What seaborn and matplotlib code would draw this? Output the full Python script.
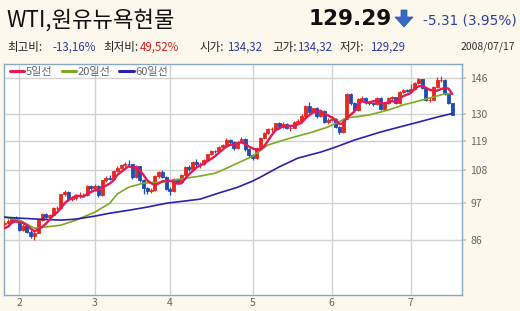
import numpy as np
import pandas as pd
import matplotlib
matplotlib.use('Agg')
import matplotlib.pyplot as plt
import seaborn as sns
from matplotlib.patches import Polygon
from matplotlib.ticker import FixedLocator, NullLocator, FixedFormatter

# ---------------- data ----------------
months = ['2', '3', '4', '5', '6', '7']
month_start_idx = [4, 24, 44, 66, 87, 108]

opens = [90.71, 90.99, 91.64, 92.33, 91.75, 88.96, 90.02, 88.41, 87.14, 88.11,
         91.77, 93.59, 92.78, 93.27, 95.46, 95.50, 100.01, 100.74, 98.23, 98.81,
         99.23, 99.64, 99.64, 102.59, 101.84, 102.45, 99.52, 104.52, 105.47, 105.15,
         107.90, 108.75, 109.92, 110.33, 110.21, 105.68, 109.42, 104.48, 101.84, 100.86,
         101.22, 105.90, 107.58, 105.62, 101.58, 100.98, 104.83, 103.92, 106.23, 109.09,
         108.50, 110.87, 110.11, 110.14, 111.76, 113.79, 114.93, 114.86, 116.69, 117.48,
         119.37, 118.30, 116.06, 118.52, 119.75, 115.63, 113.46, 112.52, 116.32, 119.97,
         121.84, 123.53, 123.69, 125.96, 124.23, 125.80, 124.12, 124.12, 126.29, 127.05,
         129.07, 133.17, 130.81, 132.19, 128.85, 131.03, 126.62, 127.35, 127.76, 124.31,
         122.30, 127.79, 138.54, 134.35, 131.31, 136.38, 136.74, 134.86, 134.61, 134.01,
         136.68, 131.93, 134.62, 136.74, 137.00, 134.55, 139.64, 140.21, 140.00, 140.97,
         143.57, 145.29, 141.37, 136.04, 136.05, 141.65, 145.08, 145.18, 138.74, 134.32]
highs = [91.6, 92.1, 92.8, 92.9, 92.0, 90.6, 90.3, 88.8, 88.6, 92.2,
         94.0, 94.1, 93.8, 95.9, 96.0, 100.1, 101.3, 101.0, 99.4, 99.9,
         100.5, 100.3, 103.1, 103.0, 103.2, 102.9, 104.7, 105.9, 106.5, 108.2,
         109.7, 110.2, 111.0, 111.8, 110.4, 109.8, 109.7, 104.9, 102.3, 101.9,
         106.2, 107.9, 108.0, 106.0, 102.2, 105.2, 105.3, 106.6, 109.4, 109.9,
         111.3, 112.2, 111.0, 112.0, 114.0, 115.5, 115.5, 117.0, 117.8, 119.9,
         119.8, 118.7, 118.9, 120.4, 120.0, 116.0, 114.0, 116.6, 120.3, 122.3,
         124.0, 124.5, 126.2, 126.4, 126.4, 126.2, 125.0, 126.8, 127.8, 129.6,
         133.8, 135.1, 132.5, 132.6, 131.4, 131.3, 128.0, 129.0, 128.2, 125.0,
         128.0, 139.1, 139.0, 134.8, 136.8, 137.5, 137.2, 135.5, 135.0, 137.0,
         137.0, 135.0, 137.1, 137.8, 137.4, 140.0, 140.8, 141.0, 143.3, 143.9,
         145.9, 145.6, 141.8, 137.0, 142.0, 146.5, 146.7, 145.5, 139.1, 134.32]
lows = [90.2, 90.6, 91.2, 91.3, 88.5, 88.5, 87.9, 86.6, 86.1, 87.9,
        91.4, 92.3, 92.3, 93.0, 94.8, 95.3, 99.4, 97.7, 97.7, 98.1,
        98.7, 98.9, 99.3, 101.2, 101.1, 98.9, 99.3, 104.0, 104.6, 104.9,
        107.3, 108.3, 109.3, 109.5, 105.1, 105.4, 104.0, 100.1, 100.1, 100.3,
        100.9, 105.4, 105.2, 101.2, 99.6, 100.6, 103.4, 103.5, 105.9, 107.6,
        108.2, 109.6, 108.9, 109.8, 111.4, 113.4, 114.1, 114.5, 116.2, 117.1,
        117.8, 115.5, 115.7, 118.1, 115.1, 112.7, 111.8, 112.2, 115.9, 119.5,
        121.4, 122.5, 123.3, 123.7, 123.8, 123.6, 122.9, 123.8, 125.9, 126.7,
        128.8, 130.3, 130.4, 128.3, 128.5, 126.1, 125.8, 126.9, 123.8, 121.6,
        122.0, 127.5, 133.8, 130.8, 131.0, 135.6, 134.2, 133.8, 133.2, 133.6,
        131.4, 131.6, 134.2, 136.0, 134.1, 134.2, 139.0, 139.5, 139.6, 140.5,
        143.2, 140.8, 135.6, 134.9, 135.8, 141.3, 144.2, 138.2, 134.1, 129.29]
closes = [90.99, 91.64, 92.33, 91.75, 88.96, 90.02, 88.41, 87.14, 88.11, 91.77,
          93.59, 92.78, 93.27, 95.46, 95.50, 100.01, 100.74, 98.23, 98.81, 99.23,
          99.64, 99.64, 102.59, 101.84, 102.45, 99.52, 104.52, 105.47, 105.15, 107.90,
          108.75, 109.92, 110.33, 110.21, 105.68, 109.42, 104.48, 101.84, 100.86, 101.22,
          105.90, 107.58, 105.62, 101.58, 100.98, 104.83, 103.92, 106.23, 109.09, 108.50,
          110.87, 110.11, 110.14, 111.76, 113.79, 114.93, 114.86, 116.69, 117.48, 119.37,
          118.30, 116.06, 118.52, 119.75, 115.63, 113.46, 112.52, 116.32, 119.97, 121.84,
          123.53, 123.69, 125.96, 124.23, 125.80, 124.12, 124.12, 126.29, 127.05, 129.07,
          133.17, 130.81, 132.19, 128.85, 131.03, 126.62, 127.35, 127.76, 124.31, 122.30,
          127.79, 138.54, 134.35, 131.31, 136.38, 136.74, 134.86, 134.61, 134.01, 136.68,
          131.93, 134.62, 136.74, 137.00, 134.55, 139.64, 140.21, 140.00, 140.97, 143.57,
          145.29, 141.37, 136.04, 136.05, 141.65, 145.08, 145.18, 138.74, 134.60, 129.29]

ma5 = [89.39, 89.87, 91.02, 91.48, 91.13, 90.94, 90.29, 89.26, 88.53, 89.09,
       89.80, 90.68, 91.90, 93.37, 94.12, 95.40, 97.00, 97.99, 98.66, 99.40,
       99.33, 99.11, 99.98, 100.59, 101.23, 101.21, 102.18, 102.76, 103.42, 104.51,
       106.36, 107.44, 108.41, 109.42, 108.98, 109.11, 108.02, 106.33, 104.46, 103.56,
       102.86, 103.48, 104.24, 104.38, 104.33, 104.12, 103.39, 103.51, 105.01, 106.51,
       107.72, 108.96, 109.74, 110.28, 111.33, 112.15, 113.10, 114.41, 115.55, 116.67,
       117.34, 117.58, 117.95, 118.40, 117.65, 116.68, 115.98, 115.54, 115.58, 116.82,
       118.84, 121.07, 123.00, 123.85, 124.64, 124.76, 124.85, 124.91, 125.48, 126.13,
       127.94, 129.28, 130.46, 130.82, 131.21, 129.90, 129.21, 128.32, 127.41, 125.67,
       125.90, 128.14, 129.46, 130.86, 133.67, 135.46, 134.73, 134.78, 135.32, 135.38,
       134.42, 134.37, 134.80, 135.39, 134.97, 136.51, 137.63, 138.28, 139.07, 140.88,
       142.01, 142.24, 141.45, 140.46, 140.08, 140.04, 140.80, 141.34, 141.05, 138.58]

ma20_idx = [0, 4, 8, 15, 19, 24, 28, 30, 33, 37, 42, 47, 52, 56, 58, 62, 66, 70,
            76, 81, 86, 91, 97, 102, 106, 110, 114, 117, 119]
ma20 = [92.7, 91.8, 89.4, 90.3, 91.8, 94.2, 97.0, 100.0, 102.2, 103.6, 103.9, 105.0,
        106.0, 107.0, 108.1, 110.6, 113.1, 117.3, 120.0, 122.0, 124.4, 128.1, 129.4,
        131.5, 133.7, 135.4, 137.2, 138.6, 138.8]

ma60_idx = [0, 4, 9, 15, 19, 24, 28, 33, 38, 43, 52, 57, 62, 66, 68, 73, 78, 84,
            88, 93, 100, 105, 110, 115, 119]
ma60 = [92.7, 92.4, 92.1, 91.8, 92.1, 93.0, 93.9, 94.8, 95.8, 97.0, 98.3, 100.3,
        102.2, 104.3, 105.6, 109.2, 112.4, 114.6, 116.5, 119.2, 122.4, 124.4, 126.4,
        128.5, 130.0]

y_ticks = [86, 97, 108, 119, 130, 146]

# ---------------- style ----------------
sns.set_theme(style='white')
plt.rcParams['font.family'] = ['Noto Sans CJK KR', 'DejaVu Sans']

W, H = 520, 311
BG = '#FCF8EC'
fig = plt.figure(figsize=(W / 100, H / 100), dpi=100, facecolor=BG)
ax = fig.add_axes([4 / W, 1 - 295 / H, (462 - 4) / W, (295 - 64) / H])
ax.set_facecolor('white')

UP = '#E42A1C'
DOWN = '#1F4DB5'

idx = np.arange(len(closes))
o = np.array(opens)
c = np.array(closes)
colors = [UP if cc >= oo else DOWN for oo, cc in zip(o, c)]

# wicks
ax.vlines(idx, lows, highs, colors=colors, linewidth=0.9, zorder=3)
# bodies
ax.bar(idx, np.abs(c - o), bottom=np.minimum(o, c), width=0.8,
       color=colors, edgecolor=colors, linewidth=0.6, zorder=4)

# moving averages
sns.lineplot(x=idx, y=ma5, ax=ax, color='#E4195A', linewidth=1.7,
             label='5일선', zorder=6)
sns.lineplot(x=ma20_idx, y=ma20, ax=ax, color='#7BAA1E', linewidth=1.2,
             label='20일선', zorder=5)
sns.lineplot(x=ma60_idx, y=ma60, ax=ax, color='#2A22B0', linewidth=1.2,
             label='60일선', zorder=5)

ax.set_yscale('log')
ax.set_ylim(71.9, 152.8)
ax.set_xlim(-0.1, 121.6)
ax.yaxis.set_major_locator(FixedLocator(y_ticks))
ax.yaxis.set_major_formatter(FixedFormatter([str(v) for v in y_ticks]))
ax.yaxis.set_minor_locator(NullLocator())
ax.xaxis.set_major_locator(FixedLocator(month_start_idx))
ax.xaxis.set_major_formatter(FixedFormatter(months))
ax.xaxis.set_minor_locator(NullLocator())
ax.yaxis.tick_right()
ax.tick_params(axis='y', length=3, color='#C8C8C8', pad=3, labelsize=7.5,
               labelcolor='#666666')
ax.tick_params(axis='x', length=0, pad=2, labelsize=7.5, labelcolor='#666666')
ax.set_xlabel('')
ax.set_ylabel('')
ax.grid(True, color='#D2D2D2', linewidth=1.0, zorder=0)
ax.set_axisbelow(True)
for s in ax.spines.values():
    s.set_color('#8AA8C0')
    s.set_linewidth(1.0)

leg = ax.legend(loc='upper left', bbox_to_anchor=(0.008, 0.998), ncol=3,
                frameon=False, fontsize=8, handlelength=1.3, handletextpad=0.15,
                columnspacing=0.8, borderaxespad=0.0, borderpad=0.2)
for t in leg.get_texts():
    t.set_color('#666666')
for line in leg.get_lines():
    line.set_linewidth(2.2)

# ---------------- header texts ----------------
def fx(x):
    return x / W

def fy(y):
    return 1 - y / H

fig.text(fx(6), fy(20), 'WTI,원유뉴욕현물', fontsize=16, color='#111111',
         va='center', ha='left')
fig.text(fx(309), fy(19), '129.29', fontsize=15.5, fontweight='bold',
         color='#111111', va='center', ha='left', family='DejaVu Sans')
arrow_px = [(401, 10), (407, 10), (407, 17), (413, 17), (404, 27), (395, 17), (401, 17)]
fig.add_artist(Polygon([(fx(x), fy(y)) for x, y in arrow_px], closed=True,
                       transform=fig.transFigure, facecolor='#3A66C8',
                       edgecolor='#2A50B0', linewidth=0.5))
fig.text(fx(423), fy(20), '-5.31 (3.95%)', fontsize=9.8, color='#2F3F9F',
         va='center', ha='left', family='DejaVu Sans')

ROW = 47
lab = '#222222'
val = '#2B3C9C'
items = [
    (7, '최고비:', lab), (52, '-13,16%', val),
    (103, '최저비:', lab), (140, '49,52%', '#E02020'),
    (199, '시가:', lab), (227, '134,32', val),
    (272, '고가:', lab), (297, '134,32', val),
    (340, '저가:', lab), (370, '129,29', val),
]
for x, s, col in items:
    fig.text(fx(x), fy(ROW), s, fontsize=8.3, color=col, va='center', ha='left')
fig.text(fx(515), fy(ROW), '2008/07/17', fontsize=7.5, color='#333333',
         va='center', ha='right')

fig.savefig('out.png', dpi=100, facecolor=BG)
